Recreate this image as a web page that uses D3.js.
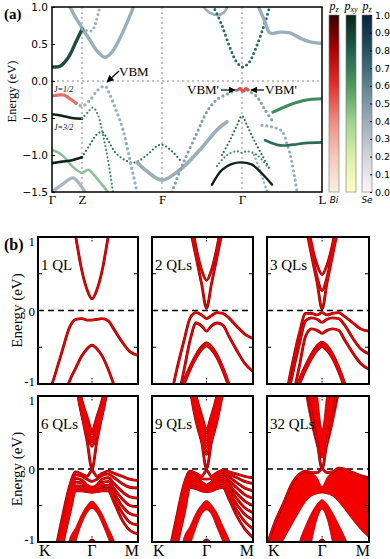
<!DOCTYPE html>
<html>
<head>
<meta charset="utf-8">
<script src="https://cdn.jsdelivr.net/npm/d3@7"></script>
<style>
  body { margin: 0; background: #fff; }
  text { font-family: "Liberation Serif", "Times New Roman", serif; }
  .sans { font-family: "DejaVu Sans", "Liberation Sans", sans-serif; }
</style>
</head>
<body>
<svg id="fig" width="390" height="559"></svg>
<script>
// ---------------- panel (a): bulk bands along Γ-Z-F-Γ-L ----------------
const kLabelsA = ["Γ", "Z", "F", "Γ", "L"];
const kTicksA = [0, 0.3, 1.1, 1.9, 2.7];
const eTicksA = [1.0, 0.5, 0.0, -0.5, -1.0, -1.5];
const cbTicks = [0, 0.1, 0.2, 0.3, 0.4, 0.5, 0.6, 0.7, 0.8, 0.9, 1.0];

// each band: [k, E(eV)]
const bandA = [[0, 0.19], [0.08, 0.2], [0.16, 0.31], [0.24, 0.53], [0.3, 0.7]];
const bandA2 = [[0.3, 0.7], [0.35, 0.68], [0.4, 0.68], [0.44, 0.8], [0.48, 1.02]];
const bandB = [[0.18, 1.0], [0.24, 0.85], [0.3, 0.72], [0.38, 0.55], [0.46, 0.39], [0.53, 0.32], [0.6, 0.39], [0.68, 0.58], [0.76, 0.82], [0.82, 1.02]];
const bandJ12 = [[0, -0.2], [0.06, -0.19], [0.12, -0.19], [0.18, -0.24], [0.24, -0.3]];
const bandVBM = [[0.24, -0.3], [0.3, -0.34], [0.38, -0.26], [0.46, -0.12], [0.53, -0.07], [0.58, -0.19], [0.64, -0.39], [0.71, -0.66], [0.78, -1.07], [0.85, -1.5]];
const bandJ32 = [[0, -0.45], [0.1, -0.47], [0.2, -0.5], [0.3, -0.51]];
const bandJ32b = [[0.3, -0.51], [0.36, -0.42], [0.41, -0.36], [0.46, -0.46], [0.51, -0.73], [0.56, -1.07], [0.61, -1.5]];
const bandE = [[0, -1.11], [0.1, -1.09], [0.2, -1.07], [0.3, -1.03]];
const bandE2 = [[0.3, -1.03], [0.38, -0.86], [0.45, -0.72], [0.5, -0.69], [0.56, -0.8], [0.63, -0.96], [0.73, -1.07], [0.83, -1.1], [0.95, -1.0], [1.05, -0.88], [1.1, -0.86], [1.2, -0.95], [1.3, -1.1]];
const bandLG = [[0, -0.93], [0.1, -1.0], [0.2, -1.15], [0.3, -1.24], [0.36, -1.2], [0.42, -1.27], [0.5, -1.4], [0.56, -1.5]];
const bandGH = [[0, -1.5], [0.1, -1.4], [0.21, -1.31], [0.28, -1.4], [0.33, -1.5]];
const bandF = [[0.85, -1.1], [0.95, -1.22], [1.1, -1.34], [1.28, -1.2], [1.48, -0.93], [1.65, -0.66], [1.75, -0.55]];
const bandCB = [[1.61, 1.02], [1.7, 0.75], [1.78, 0.45], [1.85, 0.25], [1.91, 0.19], [1.97, 0.25], [2.04, 0.45], [2.12, 0.75], [2.18, 1.02]];
const bandTopG = [[1.5, 1.02], [1.58, 0.92], [1.66, 0.89], [1.72, 0.93], [1.76, 1.02]];
const bandVL = [[1.2, -1.5], [1.3, -1.15], [1.45, -0.7], [1.56, -0.39], [1.66, -0.24], [1.78, -0.16], [1.83, -0.13], [1.86, -0.12]];
const bandVred = [[1.86, -0.12], [1.88, -0.1], [1.91, -0.14], [1.94, -0.1], [1.96, -0.12]];
const bandVR = [[1.96, -0.12], [1.98, -0.14], [2.06, -0.23], [2.13, -0.39], [2.2, -0.53]];
const bandH = [[2.21, -0.42], [2.38, -0.32], [2.53, -0.26], [2.7, -0.24]];
const bandI = [[2.06, 1.02], [2.13, 0.8], [2.18, 0.65], [2.28, 0.66], [2.38, 0.65], [2.48, 0.58], [2.58, 0.53], [2.7, 0.51]];
const bandJ = [[2.13, -0.8], [2.28, -0.87], [2.41, -0.86], [2.53, -0.84], [2.7, -0.83]];
const bandK = [[1.65, -1.15], [1.75, -1.0], [1.85, -0.95], [1.9, -0.97], [1.95, -0.95], [2.05, -1.0], [2.15, -1.15]];
const bandK2 = [[1.6, -1.4], [1.7, -1.2], [1.8, -1.12], [1.9, -1.1], [2.0, -1.13], [2.1, -1.25], [2.2, -1.4]];
const bandX1 = [[1.7, -1.0], [1.78, -0.8], [1.85, -0.6], [1.9, -0.47], [1.95, -0.6], [2.02, -0.8], [2.1, -1.0], [2.18, -1.2]];
const bandR1 = [[2.02, -1.0], [2.08, -1.2], [2.15, -1.5]];
const bandR2 = [[2.1, -0.6], [2.2, -0.62], [2.3, -0.68], [2.35, -0.85], [2.4, -1.1], [2.45, -1.5]];

// ---------------- panel (b): thin films along K-Γ-M ----------------
const kGrid = [-1, -0.85, -0.7, -0.56, -0.41, -0.3, -0.19, -0.09, 0, 0.09, 0.19, 0.3, 0.41, 0.56, 0.7, 0.852];
const eTicksB = [1, 0, -1];

const ql1Lines = [
  [3.2, 2.9, 2.5, 2.0, 1.5, 1.0, 0.55, 0.28, 0.16, 0.28, 0.55, 1.0, 1.4, 1.9, 2.4, 2.8],
  [-1.6, -1.25, -0.91, -0.57, -0.22, -0.12, -0.11, -0.13, -0.13, -0.12, -0.11, -0.14, -0.26, -0.43, -0.56, -0.61],
  [-3, -2.5, -2, -1.3, -0.95, -0.78, -0.62, -0.52, -0.47, -0.52, -0.62, -0.8, -1.02, -1.35, -1.7, -2.0]
];
const ql2Lines = [
  [4, 3.6, 3.2, 2.6, 1.9, 1.15, 0.72, 0.36, 0.03, 0.36, 0.72, 1.12, 1.5, 2.1, 2.6, 3.0],
  [4, 3.6, 3.2, 2.6, 2.0, 1.35, 0.85, 0.55, 0.41, 0.55, 0.85, 1.3, 1.7, 2.2, 2.7, 3.1],
  [-2.4, -1.9, -1.35, -0.85, -0.4, -0.1, -0.03, -0.06, -0.11, -0.07, -0.03, -0.04, -0.1, -0.22, -0.32, -0.38],
  [-3, -2.5, -1.9, -1.35, -0.8, -0.4, -0.17, -0.21, -0.28, -0.21, -0.17, -0.2, -0.35, -0.55, -0.72, -0.83],
  [-3, -2.5, -2, -1.3, -0.95, -0.76, -0.6, -0.49, -0.44, -0.49, -0.6, -0.78, -1.0, -1.33, -1.7, -2.0],
  [-3, -2.5, -2, -1.35, -1.0, -0.8, -0.64, -0.53, -0.48, -0.53, -0.64, -0.82, -1.04, -1.37, -1.7, -2.0]
];
const ql3Lines = [
  [4, 3.6, 3.2, 2.6, 1.9, 1.2, 0.75, 0.38, 0.02, 0.38, 0.75, 1.15, 1.5, 2.1, 2.6, 3.0],
  [4, 3.6, 3.2, 2.6, 1.95, 1.3, 0.8, 0.45, 0.27, 0.45, 0.8, 1.25, 1.6, 2.1, 2.6, 3.0],
  [4, 3.6, 3.2, 2.6, 2.0, 1.4, 0.9, 0.62, 0.49, 0.62, 0.9, 1.35, 1.7, 2.2, 2.7, 3.1],
  [-2.4, -1.9, -1.35, -0.8, -0.3, -0.04, -0.04, -0.06, -0.03, -0.06, -0.04, -0.03, -0.08, -0.17, -0.25, -0.28],
  [-2.6, -2.1, -1.5, -0.95, -0.45, -0.14, -0.1, -0.12, -0.16, -0.12, -0.1, -0.11, -0.2, -0.38, -0.52, -0.59],
  [-3, -2.5, -1.9, -1.3, -0.75, -0.35, -0.25, -0.27, -0.31, -0.27, -0.25, -0.27, -0.4, -0.58, -0.72, -0.8],
  [-3, -2.5, -2, -1.3, -0.94, -0.75, -0.59, -0.48, -0.43, -0.48, -0.59, -0.77, -0.99, -1.32, -1.7, -2.0],
  [-3, -2.5, -2, -1.33, -0.97, -0.78, -0.62, -0.51, -0.46, -0.51, -0.62, -0.8, -1.02, -1.35, -1.7, -2.0],
  [-3, -2.5, -2, -1.36, -1.0, -0.81, -0.65, -0.54, -0.49, -0.54, -0.65, -0.83, -1.05, -1.38, -1.7, -2.0]
];
const ql6Lines = [
  [4, 3.6, 3.2, 2.6, 1.9, 1.2, 0.75, 0.38, 0.0, 0.38, 0.75, 1.15, 1.5, 2.1, 2.6, 3.0],
  [4, 3.6, 3.2, 2.6, 1.9, 1.2, 0.75, 0.49, 0.31, 0.49, 0.75, 1.15, 1.55, 2.1, 2.6, 3.0],
  [4, 3.6, 3.2, 2.6, 1.95, 1.25, 0.8, 0.55, 0.37, 0.55, 0.8, 1.2, 1.6, 2.1, 2.6, 3.0],
  [4, 3.6, 3.2, 2.6, 2.0, 1.3, 0.85, 0.6, 0.42, 0.6, 0.85, 1.25, 1.65, 2.2, 2.7, 3.1],
  [4, 3.6, 3.2, 2.6, 2.05, 1.35, 0.9, 0.66, 0.48, 0.66, 0.9, 1.3, 1.7, 2.2, 2.7, 3.1],
  [4, 3.6, 3.2, 2.6, 2.1, 1.4, 0.95, 0.71, 0.53, 0.71, 0.95, 1.35, 1.75, 2.3, 2.8, 3.2],
  [-2.2, -1.7, -1.2, -0.7, -0.22, -0.04, -0.07, -0.1, -0.02, -0.1, -0.06, -0.03, -0.06, -0.1, -0.14, -0.16],
  [-2.4, -1.9, -1.35, -0.82, -0.3, -0.08, -0.1, -0.14, -0.17, -0.14, -0.09, -0.07, -0.12, -0.2, -0.25, -0.26],
  [-2.5, -2.0, -1.45, -0.9, -0.38, -0.13, -0.15, -0.22, -0.25, -0.22, -0.14, -0.12, -0.2, -0.31, -0.38, -0.4],
  [-2.6, -2.1, -1.5, -0.95, -0.44, -0.18, -0.19, -0.25, -0.27, -0.25, -0.19, -0.17, -0.27, -0.41, -0.5, -0.52],
  [-2.7, -2.2, -1.6, -1.0, -0.5, -0.23, -0.23, -0.27, -0.29, -0.27, -0.23, -0.22, -0.33, -0.51, -0.61, -0.64],
  [-2.8, -2.3, -1.65, -1.05, -0.55, -0.27, -0.27, -0.29, -0.31, -0.29, -0.27, -0.26, -0.4, -0.6, -0.73, -0.77],
  [-2.9, -2.4, -1.7, -1.1, -0.6, -0.3, -0.3, -0.31, -0.32, -0.31, -0.3, -0.3, -0.46, -0.7, -0.84, -0.89],
  [-5, -4.5, -4, -3.5, -2.5, -1.7, -1.25, -1.05, -0.97, -1.05, -1.25, -1.7, -2.5, -3.5, -4, -4.5]
];
const ql9Lines = [
  [4, 3.6, 3.2, 2.6, 1.9, 1.2, 0.75, 0.38, 0.0, 0.38, 0.75, 1.15, 1.5, 2.1, 2.6, 3.0],
  [4, 3.6, 3.2, 2.6, 1.8, 1.1, 0.65, 0.38, 0.2, 0.38, 0.65, 1.05, 1.45, 2.1, 2.6, 3.0],
  [4, 3.6, 3.2, 2.6, 1.85, 1.15, 0.7, 0.43, 0.25, 0.43, 0.7, 1.1, 1.5, 2.1, 2.6, 3.0],
  [4, 3.6, 3.2, 2.6, 1.9, 1.2, 0.75, 0.48, 0.3, 0.48, 0.75, 1.15, 1.55, 2.1, 2.6, 3.0],
  [4, 3.6, 3.2, 2.6, 1.95, 1.25, 0.8, 0.53, 0.35, 0.53, 0.8, 1.2, 1.6, 2.2, 2.7, 3.1],
  [4, 3.6, 3.2, 2.6, 2.0, 1.3, 0.85, 0.58, 0.4, 0.58, 0.85, 1.25, 1.65, 2.2, 2.7, 3.1],
  [4, 3.6, 3.2, 2.6, 2.05, 1.35, 0.9, 0.63, 0.45, 0.63, 0.9, 1.3, 1.7, 2.3, 2.8, 3.2],
  [4, 3.6, 3.2, 2.6, 2.1, 1.4, 0.95, 0.68, 0.5, 0.68, 0.95, 1.35, 1.75, 2.3, 2.8, 3.2],
  [4, 3.6, 3.2, 2.6, 2.15, 1.45, 1.0, 0.73, 0.55, 0.73, 1.0, 1.4, 1.8, 2.4, 2.9, 3.3],
  [-2.2, -1.7, -1.2, -0.7, -0.2, -0.03, -0.06, -0.1, -0.02, -0.1, -0.05, -0.02, -0.04, -0.07, -0.1, -0.12],
  [-2.3, -1.8, -1.28, -0.76, -0.26, -0.05, -0.09, -0.13, -0.14, -0.13, -0.07, -0.04, -0.07, -0.12, -0.17, -0.2],
  [-2.4, -1.86, -1.34, -0.82, -0.31, -0.08, -0.12, -0.18, -0.22, -0.18, -0.1, -0.07, -0.11, -0.19, -0.26, -0.3],
  [-2.5, -1.92, -1.4, -0.87, -0.36, -0.1, -0.15, -0.21, -0.25, -0.21, -0.13, -0.1, -0.16, -0.26, -0.35, -0.4],
  [-2.6, -1.98, -1.46, -0.92, -0.41, -0.13, -0.18, -0.23, -0.27, -0.23, -0.16, -0.13, -0.21, -0.34, -0.44, -0.5],
  [-2.7, -2.04, -1.52, -0.97, -0.46, -0.16, -0.2, -0.25, -0.28, -0.25, -0.19, -0.16, -0.26, -0.41, -0.53, -0.6],
  [-2.8, -2.1, -1.58, -1.02, -0.51, -0.19, -0.22, -0.27, -0.29, -0.27, -0.22, -0.19, -0.31, -0.49, -0.62, -0.7],
  [-2.9, -2.16, -1.64, -1.07, -0.56, -0.22, -0.25, -0.28, -0.3, -0.28, -0.25, -0.22, -0.36, -0.57, -0.72, -0.82],
  [-3.0, -2.22, -1.7, -1.12, -0.61, -0.25, -0.27, -0.3, -0.31, -0.3, -0.27, -0.25, -0.41, -0.65, -0.82, -0.94],
  [-5, -4.5, -4, -3.5, -2.5, -1.7, -1.25, -1.05, -0.97, -1.05, -1.25, -1.7, -2.5, -3.5, -4, -4.5]
];
const ql32Lines = [
  [4, 3.6, 3.2, 2.6, 1.9, 1.2, 0.75, 0.38, 0.0, 0.38, 0.75, 1.15, 1.5, 2.1, 2.6, 3.0],
  [-1.05, -0.72, -0.47, -0.22, -0.07, -0.03, -0.05, -0.05, 0.0, -0.05, -0.04, 0.01, 0.0, -0.05, -0.09, -0.12],
  [-5, -4.5, -4, -3.5, -2.5, -1.7, -1.25, -1.05, -0.97, -1.05, -1.25, -1.7, -2.5, -3.5, -4, -4.5]
];

// filled band manifolds: [lower edge, upper edge]
const lam6Top = [-3, -2.5, -2.0, -1.45, -0.95, -0.8, -0.62, -0.5, -0.44, -0.5, -0.62, -0.8, -0.98, -1.3, -1.6, -1.9];
const lam6Bot = [-3.4, -2.9, -2.4, -1.9, -1.35, -1.0, -0.75, -0.6, -0.54, -0.6, -0.75, -0.95, -1.2, -1.6, -1.9, -2.2];
const lam9Top = [-3, -2.5, -2.0, -1.45, -0.93, -0.78, -0.6, -0.49, -0.43, -0.49, -0.6, -0.78, -0.96, -1.28, -1.6, -1.9];
const lam9Bot = [-3.4, -2.9, -2.4, -1.9, -1.4, -1.05, -0.8, -0.62, -0.56, -0.62, -0.8, -1.0, -1.25, -1.65, -1.95, -2.25];
const cb32Low = [4, 3.6, 3.2, 2.6, 1.75, 1.05, 0.6, 0.3, 0.15, 0.3, 0.6, 1.0, 1.4, 2.0, 2.6, 3.0];
const cb32In = [5, 4.5, 4, 3.5, 3, 2.4, 1.6, 1.05, 0.55, 1.05, 1.6, 2.3, 3, 3.5, 4, 4.5];
const vb32Top = [-1.05, -0.72, -0.47, -0.22, -0.07, -0.03, -0.05, -0.12, -0.24, -0.12, -0.04, 0.01, 0.0, -0.05, -0.09, -0.12];
const vb32Bot = [-1.5, -1.2, -0.97, -0.78, -0.58, -0.45, -0.37, -0.34, -0.33, -0.34, -0.37, -0.45, -0.55, -0.7, -0.83, -0.94];
const lam32Top = [-3, -2.6, -2.2, -1.6, -1.0, -0.78, -0.6, -0.48, -0.42, -0.48, -0.6, -0.76, -0.93, -1.2, -1.5, -1.8];
const lam32Bot = [-3.5, -3.2, -2.9, -2.5, -2.0, -1.45, -1.0, -0.68, -0.55, -0.68, -1.0, -1.4, -1.9, -2.4, -2.8, -3.1];

// ---------------- drawing ----------------
const svg = d3.select("#fig");
const defs = svg.append("defs");

// panel (a) frame
const A = { left: 52, right: 322, top: 7, bottom: 192 };
const xA = d3.scaleLinear().domain([0, 2.7]).range([A.left, A.right]);
const yA = d3.scaleLinear().domain([-1.5, 1.0]).range([A.bottom, A.top]);

defs.append("clipPath").attr("id", "clipA")
  .append("rect").attr("x", A.left).attr("y", A.top)
  .attr("width", A.right - A.left).attr("height", A.bottom - A.top);

const gA = svg.append("g");
const bodyA = gA.append("g").attr("clip-path", "url(#clipA)");

// guide lines
kTicksA.slice(1, 4).forEach(k => {
  bodyA.append("line").attr("x1", xA(k)).attr("x2", xA(k))
    .attr("y1", A.top).attr("y2", A.bottom)
    .attr("stroke", "#888").attr("stroke-width", 1).attr("stroke-dasharray", "2,3");
});
bodyA.append("line").attr("x1", A.left).attr("x2", A.right)
  .attr("y1", yA(0)).attr("y2", yA(0))
  .attr("stroke", "#888").attr("stroke-width", 1).attr("stroke-dasharray", "2,3");

const gray = "#9aaebb", teal = "#2b6b5c", dkteal = "#1b4f42", green = "#3f8a5e", red = "#e46f6f", black = "#0e2418";
const bandsA = [
  { pts: bandGH, color: "#a9b4c4", w: 3.2 },
  { pts: bandLG, color: "#8fbf9a", w: 2.6 },
  { pts: bandB, color: gray, w: 3.4 },
  { pts: bandA, color: dkteal, w: 3.4 },
  { pts: bandA2, color: gray, w: 3, dot: true },
  { pts: bandTopG, color: gray, w: 2.6 },
  { pts: bandE2, color: teal, w: 2.2, dot: true },
  { pts: bandF, color: gray, w: 3.6 },
  { pts: bandVBM, color: gray, w: 3.4, dot: true },
  { pts: bandJ12, color: red, w: 3.2 },
  { pts: bandJ32, color: black, w: 2.6 },
  { pts: bandJ32b, color: green, w: 2.2, dot: true },
  { pts: bandE, color: black, w: 2.6 },
  { pts: bandCB, color: teal, w: 3, dot: true },
  { pts: bandX1, color: teal, w: 2.2, dot: true },
  { pts: bandR1, color: gray, w: 2.6, dot: true },
  { pts: bandR2, color: gray, w: 3.2, dot: true },
  { pts: bandK, color: green, w: 2.2, dot: true },
  { pts: bandK2, color: black, w: 2.4 },
  { pts: bandVL, color: "#7fa3a0", w: 3.2, dot: true },
  { pts: bandVR, color: "#7fa3a0", w: 3.2, dot: true },
  { pts: bandVred, color: "#e05050", w: 3 },
  { pts: bandH, color: green, w: 3.2 },
  { pts: bandI, color: gray, w: 3.4 },
  { pts: bandJ, color: teal, w: 2.6 }
];

const lineA = d3.line().x(d => xA(d[0])).y(d => yA(d[1])).curve(d3.curveCatmullRom.alpha(0.5));
bandsA.forEach(b => {
  const p = bodyA.append("path").attr("d", lineA(b.pts))
    .attr("fill", "none").attr("stroke", b.color).attr("stroke-width", b.w)
    .attr("stroke-linecap", "round");
  if (b.dot) p.attr("stroke-dasharray", "0," + (b.w + 1.6));
});

gA.append("rect").attr("x", A.left).attr("y", A.top)
  .attr("width", A.right - A.left).attr("height", A.bottom - A.top)
  .attr("fill", "none").attr("stroke", "#000").attr("stroke-width", 1.5);

// axes (a)
gA.append("g").attr("transform", `translate(${A.left},0)`)
  .call(d3.axisLeft(yA).tickValues(eTicksA).tickFormat(d3.format(".1f")).tickSize(-3).tickPadding(4))
  .call(g => g.select(".domain").remove())
  .call(g => g.selectAll("text").attr("class", "sans").style("font-size", "10.5px").attr("fill", "#000"));
gA.append("g").attr("transform", `translate(0,${A.bottom})`)
  .call(d3.axisBottom(xA).tickValues(kTicksA).tickFormat((d, i) => kLabelsA[i]).tickSize(0).tickPadding(3))
  .call(g => g.select(".domain").remove())
  .call(g => g.selectAll("text").style("font-size", "13px").style("font-family", "Liberation Serif, serif").attr("fill", "#000"));

gA.append("text").attr("transform", `translate(16,${(A.top + A.bottom) / 2 - 8}) rotate(-90)`)
  .attr("text-anchor", "middle").style("font-size", "12.5px").text("Energy (eV)");
gA.append("text").attr("x", 4).attr("y", 19).style("font-size", "15px").style("font-weight", "bold").text("(a)");

// annotations
gA.append("text").attr("x", 54).attr("y", 92).style("font-size", "8px").style("font-style", "italic").text("J=1/2");
gA.append("text").attr("x", 54).attr("y", 130).style("font-size", "8px").style("font-style", "italic").text("J=3/2");
const arrow = (x1, y1, x2, y2) => {
  gA.append("line").attr("x1", x1).attr("y1", y1).attr("x2", x2).attr("y2", y2)
    .attr("stroke", "#000").attr("stroke-width", 1.2).attr("marker-end", "url(#arr)");
};
defs.append("marker").attr("id", "arr").attr("viewBox", "0 0 10 10").attr("refX", 9).attr("refY", 5)
  .attr("markerWidth", 6).attr("markerHeight", 6).attr("orient", "auto")
  .append("path").attr("d", "M0,0 L10,5 L0,10 z").attr("fill", "#000");
gA.append("text").attr("x", 119).attr("y", 76).style("font-size", "13px").text("VBM");
arrow(119, 71, 107, 82);
gA.append("text").attr("x", 187).attr("y", 94).style("font-size", "13px").text("VBM'");
arrow(221, 90, 235, 90);
gA.append("text").attr("x", 265).attr("y", 94).style("font-size", "13px").text("VBM'");
arrow(264, 90, 251, 90);

// colour bars
const cbY = d3.scaleLinear().domain([0, 1]).range([192, 15]);
const cbars = [
  { x: 329, id: "gBi", head: "p", sub: "z", stops: ["#f8f0e4", "#f4c9b8", "#ee8c84", "#e4302c", "#b00000", "#380000"] },
  { x: 346, id: "gPxy", head: "p", sub: "xy", stops: ["#ffffc6", "#dcefa8", "#9fd090", "#4f9a60", "#1f5e4e", "#0b2216"] },
  { x: 362, id: "gSe", head: "p", sub: "z", stops: ["#faf6fa", "#d4d4dc", "#9cacbc", "#5e8490", "#235262", "#0a2242"] }
];
cbars.forEach(c => {
  const gr = defs.append("linearGradient").attr("id", c.id).attr("x1", 0).attr("y1", 1).attr("x2", 0).attr("y2", 0);
  c.stops.forEach((s, i) => gr.append("stop").attr("offset", i / (c.stops.length - 1)).attr("stop-color", s));
  svg.append("rect").attr("x", c.x).attr("y", 15).attr("width", 10).attr("height", 177)
    .attr("fill", `url(#${c.id})`).attr("stroke", "#777").attr("stroke-width", 0.6);
  const t = svg.append("text").attr("x", c.x + 5).attr("y", 10).attr("text-anchor", "middle")
    .style("font-size", "12px").style("font-style", "italic");
  t.append("tspan").text(c.head);
  t.append("tspan").attr("dy", 2).style("font-size", "8px").text(c.sub);
});
svg.append("g").attr("transform", "translate(372,0)")
  .call(d3.axisRight(cbY).tickValues(cbTicks).tickFormat(d3.format(".1f")).tickSize(-2).tickPadding(3))
  .call(g => g.select(".domain").remove())
  .call(g => g.selectAll("text").attr("class", "sans").style("font-size", "9.5px").attr("fill", "#000"));
svg.append("text").attr("x", 334).attr("y", 203).attr("text-anchor", "middle").attr("class", "sans")
  .style("font-size", "9px").style("font-style", "italic").text("Bi");
svg.append("text").attr("x", 367).attr("y", 203).attr("text-anchor", "middle").attr("class", "sans")
  .style("font-size", "9px").style("font-style", "italic").text("Se");

// ---------------- panel (b) ----------------
const colsB = [[38, 138], [152, 253], [267, 369]];
const rowsB = [[237, 384], [396, 542]];
const panelsB = [
  { row: 0, col: 0, label: "1 QL", lines: ql1Lines, areas: [] },
  { row: 0, col: 1, label: "2 QLs", lines: ql2Lines, areas: [] },
  { row: 0, col: 2, label: "3 QLs", lines: ql3Lines, areas: [] },
  { row: 1, col: 0, label: "6 QLs", lines: ql6Lines, areas: [[lam6Bot, lam6Top]] },
  { row: 1, col: 1, label: "9 QLs", lines: ql9Lines, areas: [[lam9Bot, lam9Top]] },
  { row: 1, col: 2, label: "32 QLs", lines: ql32Lines, areas: [[cb32Low, cb32In], [vb32Bot, vb32Top], [lam32Bot, lam32Top]] }
];

svg.append("text").attr("x", 4).attr("y", 250).style("font-size", "16px").style("font-weight", "bold").text("(b)");

panelsB.forEach((p, n) => {
  const [x0, x1] = colsB[p.col], [y0, y1] = rowsB[p.row];
  const x = d3.scaleLinear().domain([-1, 0.852]).range([x0, x1]);
  const y = d3.scaleLinear().domain([-1, 1]).range([y1, y0]);
  const g = svg.append("g");
  defs.append("clipPath").attr("id", "clipB" + n)
    .append("rect").attr("x", x0).attr("y", y0).attr("width", x1 - x0).attr("height", y1 - y0);
  const body = g.append("g").attr("clip-path", `url(#clipB${n})`);

  body.append("line").attr("x1", x0).attr("x2", x1).attr("y1", y(0)).attr("y2", y(0))
    .attr("stroke", "#000").attr("stroke-width", 1.6).attr("stroke-dasharray", "6,4");

  const area = d3.area().x((d, i) => x(kGrid[i])).y0(d => y(d[0])).y1(d => y(d[1])).curve(d3.curveMonotoneX);
  p.areas.forEach(([lo, hi]) => {
    body.append("path").attr("d", area(lo.map((v, i) => [v, hi[i]])))
      .attr("fill", "#f40000").attr("stroke", "#a00000").attr("stroke-width", 0.8);
  });
  const line = d3.line().x((d, i) => x(kGrid[i])).y(d => y(d)).curve(d3.curveMonotoneX);
  p.lines.forEach(b => body.append("path").attr("d", line(b)).attr("fill", "none")
    .attr("stroke", "#7a0000").attr("stroke-width", 2.8));
  p.lines.forEach(b => body.append("path").attr("d", line(b)).attr("fill", "none")
    .attr("stroke", "#f00000").attr("stroke-width", 1.7));

  g.append("rect").attr("x", x0).attr("y", y0).attr("width", x1 - x0).attr("height", y1 - y0)
    .attr("fill", "none").attr("stroke", "#000").attr("stroke-width", 2);

  // inner ticks
  [0.5, -0.5].forEach(e => {
    g.append("line").attr("x1", x0).attr("x2", x0 + 4).attr("y1", y(e)).attr("y2", y(e)).attr("stroke", "#000");
    g.append("line").attr("x1", x1 - 4).attr("x2", x1).attr("y1", y(e)).attr("y2", y(e)).attr("stroke", "#000");
  });
  [[y0, y0 + 6], [y1 - 6, y1]].forEach(([a, b]) => {
    g.append("line").attr("x1", x(0)).attr("x2", x(0)).attr("y1", a).attr("y2", b)
      .attr("stroke", "#000").attr("stroke-dasharray", "1.5,1.5");
  });

  g.append("text").attr("x", x0 + 3).attr("y", y0 + 33).style("font-size", "15px").text(p.label);

  if (p.col === 0) {
    eTicksB.forEach(e => {
      const yy = e === 1 ? y(e) + 9 : e === -1 ? y(e) + 2 : y(e) + 5;
      g.append("text").attr("x", x0 - 3).attr("y", yy).attr("text-anchor", "end")
        .style("font-size", "13px").text(e < 0 ? "-1" : String(e));
    });
    g.append("text").attr("transform", `translate(${x0 - 16},${(y0 + y1) / 2}) rotate(-90)`)
      .attr("text-anchor", "middle").style("font-size", "15px").text("Energy (eV)");
  }
  if (p.row === 1) {
    g.append("text").attr("x", x0 + 1).attr("y", 556).style("font-size", "16px").text("K");
    g.append("text").attr("x", x(0)).attr("y", 556).attr("text-anchor", "middle").style("font-size", "16px").text("Γ");
    g.append("text").attr("x", x1 + 1).attr("y", 556).attr("text-anchor", "end").style("font-size", "16px").text("M");
  }
});
</script>
</body>
</html>
